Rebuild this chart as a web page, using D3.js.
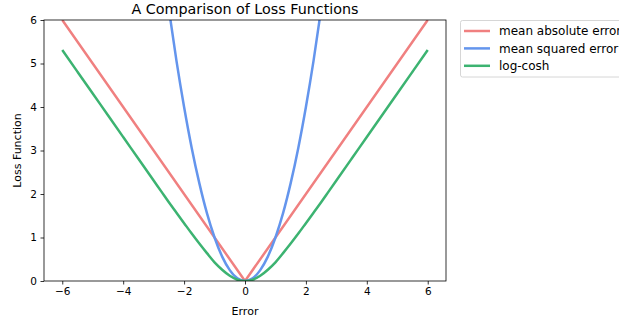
<!DOCTYPE html>
<html>
<head>
<meta charset="utf-8">
<script src="https://cdn.jsdelivr.net/npm/d3@7"></script>
<style>
  body { margin: 0; background: #fff; }
  text { font-family: "DejaVu Sans", sans-serif; fill: #000; }
</style>
</head>
<body>
<svg id="chart"></svg>
<script>
// Series data
const maeX = [-6, 0, 6];
const maeY = [6, 0, 6];

const mseX = [-2.75, -2.5, -2.25, -2, -1.75, -1.5, -1.25, -1, -0.75, -0.5, -0.25, 0,
  0.25, 0.5, 0.75, 1, 1.25, 1.5, 1.75, 2, 2.25, 2.5, 2.75];
const mseY = [7.56, 6.25, 5.06, 4, 3.06, 2.25, 1.56, 1, 0.56, 0.25, 0.06, 0,
  0.06, 0.25, 0.56, 1, 1.56, 2.25, 3.06, 4, 5.06, 6.25, 7.56];

const logcoshX = [-6, -5.5, -5, -4.5, -4, -3.5, -3, -2.75, -2.5, -2.25, -2, -1.75, -1.5, -1.25, -1,
  -0.75, -0.5, -0.25, 0, 0.25, 0.5, 0.75, 1, 1.25, 1.5, 1.75, 2, 2.25, 2.5, 2.75, 3, 3.5, 4, 4.5, 5, 5.5, 6];
const logcoshY = [5.31, 4.81, 4.31, 3.81, 3.31, 2.81, 2.31, 2.06, 1.81, 1.57, 1.33, 1.09, 0.86, 0.64, 0.43,
  0.26, 0.12, 0.03, 0, 0.03, 0.12, 0.26, 0.43, 0.64, 0.86, 1.09, 1.33, 1.57, 1.81, 2.06, 2.31, 2.81, 3.31, 3.81, 4.31, 4.81, 5.31];

const seriesNames = ["mean absolute error", "mean squared error", "log-cosh"];
const seriesColors = ["#F08080", "#6495ED", "#3CB371"];

const xTicks = [-6, -4, -2, 0, 2, 4, 6];
const yTicks = [0, 1, 2, 3, 4, 5, 6];

// Layout
const Width = 619;
const Height = 324;
const plotLeft = 44, plotRight = 446, plotTop = 20, plotBottom = 281;

const svg = d3.select("#chart")
  .attr("width", Width)
  .attr("height", Height);

const xScale = d3.scaleLinear().domain([-6.6, 6.6]).range([plotLeft, plotRight]);
const yScale = d3.scaleLinear().domain([0, 6]).range([plotBottom, plotTop]);

svg.append("clipPath").attr("id", "plot")
  .append("rect")
  .attr("x", plotLeft).attr("y", plotTop)
  .attr("width", plotRight - plotLeft).attr("height", plotBottom - plotTop);

// Lines: mae is straight segments, the others smooth
const series = [
  { pts: d3.zip(maeX, maeY), curve: d3.curveLinear },
  { pts: d3.zip(mseX, mseY), curve: d3.curveMonotoneX },
  { pts: d3.zip(logcoshX, logcoshY), curve: d3.curveMonotoneX }
];

svg.append("g").attr("clip-path", "url(#plot)")
  .selectAll("path")
  .data(series)
  .enter()
  .append("path")
  .attr("d", d => d3.line()
    .x(p => xScale(p[0]))
    .y(p => yScale(p[1]))
    .curve(d.curve)(d.pts))
  .attr("fill", "none")
  .attr("stroke", (d, i) => seriesColors[i])
  .attr("stroke-width", 2.5);

// Axes
const xAxis = svg.append("g")
  .attr("transform", `translate(0,${plotBottom})`)
  .call(d3.axisBottom(xScale).tickValues(xTicks).tickFormat(d3.format("d")).tickSize(3.5).tickPadding(3.5));

const yAxis = svg.append("g")
  .attr("transform", `translate(${plotLeft},0)`)
  .call(d3.axisLeft(yScale).tickValues(yTicks).tickFormat(d3.format("d")).tickSize(3.5).tickPadding(3.5));

[xAxis, yAxis].forEach(a => {
  a.select(".domain").remove();
  a.selectAll("line").attr("stroke", "#000").attr("stroke-width", 0.8);
  a.selectAll("text").style("font-size", "10.5px").style("font-family", "DejaVu Sans");
});

// Frame
svg.append("rect")
  .attr("x", plotLeft).attr("y", plotTop)
  .attr("width", plotRight - plotLeft).attr("height", plotBottom - plotTop)
  .attr("fill", "none")
  .attr("stroke", "#000")
  .attr("stroke-width", 0.8);

// Labels
svg.append("text")
  .attr("x", (plotLeft + plotRight) / 2).attr("y", 13.5)
  .attr("text-anchor", "middle")
  .style("font-size", "14.3px")
  .text("A Comparison of Loss Functions");

svg.append("text")
  .attr("x", (plotLeft + plotRight) / 2).attr("y", 315)
  .attr("text-anchor", "middle")
  .style("font-size", "11px")
  .text("Error");

svg.append("text")
  .attr("transform", `translate(21,${(plotTop + plotBottom) / 2}) rotate(-90)`)
  .attr("text-anchor", "middle")
  .style("font-size", "11px")
  .text("Loss Function");

// Legend
const legend = svg.append("g");
legend.append("rect")
  .attr("x", 460.5).attr("y", 20.5)
  .attr("width", 200).attr("height", 56.5)
  .attr("rx", 2)
  .attr("fill", "#fff")
  .attr("stroke", "#ccc")
  .attr("stroke-width", 0.8);

const items = legend.selectAll("g.item")
  .data(seriesNames)
  .enter()
  .append("g")
  .attr("transform", (d, i) => `translate(0,${31 + i * 17.4})`);

items.append("line")
  .attr("x1", 464).attr("x2", 490)
  .attr("stroke", (d, i) => seriesColors[i])
  .attr("stroke-width", 2.5);

items.append("text")
  .attr("x", 499).attr("dy", "0.35em")
  .style("font-size", "12px")
  .text(d => d);
</script>
</body>
</html>
